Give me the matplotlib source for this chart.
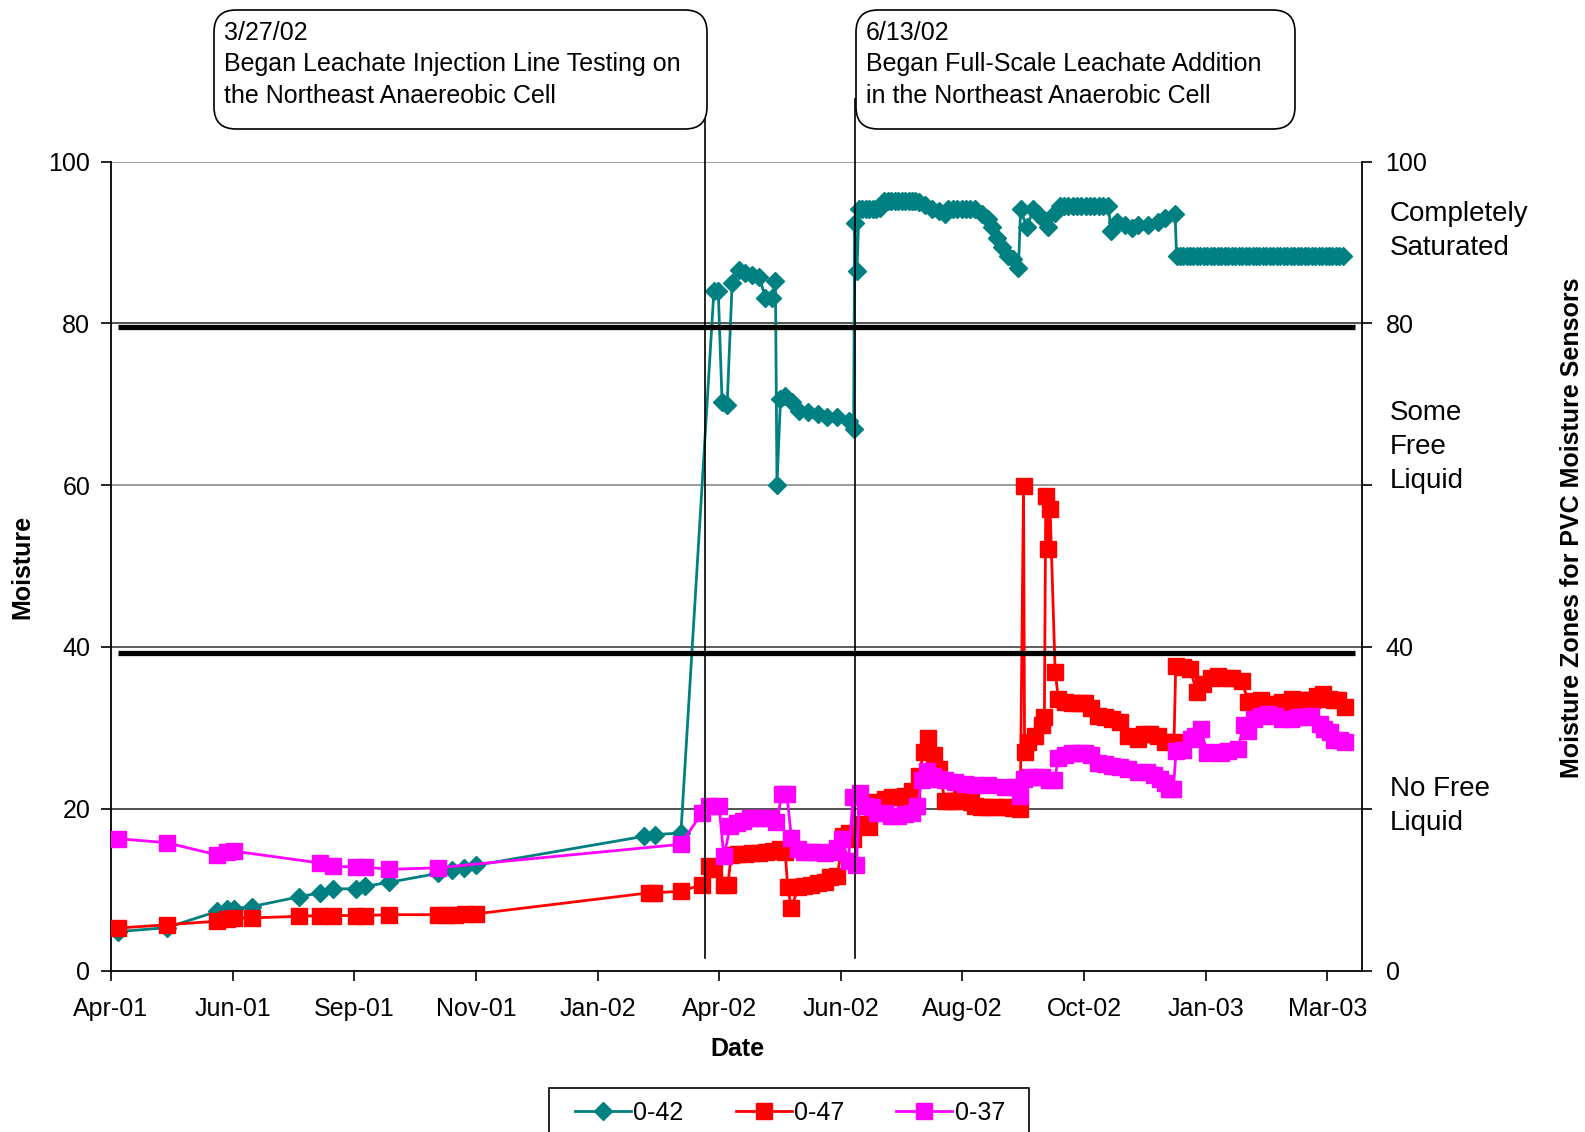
import datetime as dt

import matplotlib
matplotlib.use("Agg")
import matplotlib.pyplot as plt
import matplotlib.dates as mdates
import numpy as np
from matplotlib.patches import FancyBboxPatch, Rectangle
from matplotlib.transforms import Affine2D

plt.rcParams["font.family"] = ["Liberation Sans", "DejaVu Sans"]

# Sensor readings: days after 19 Apr 2001 and moisture value
days_042 = [4, 32, 61, 67, 71, 81, 108, 120, 128, 141, 146, 160, 188, 196, 203, 210,
            307, 313, 328,
            347, 349.5, 351.7, 354.6, 357.5, 361.3, 365, 369, 373, 376.6, 380.4, 382.4,
            383.3, 385.3, 388, 392, 395.8, 401, 407, 412, 418, 424.5, 427.4,
            428, 429.3, 430.5, 432.5, 434.5, 436.5, 438.5, 440.5, 442.5,
            445, 447, 449, 451, 453, 455, 457, 459, 461, 463, 465,
            468.6, 472.5, 476.3, 480.1, 482, 484.5, 487, 489.5, 492, 494.5, 497.4,
            501.2, 505, 507, 509.8, 512.7, 516.5, 519.4, 522.3, 523.5, 527.1,
            530.9, 533.8, 537, 539.5, 543.4, 546.2,
            548.5, 551, 553.5, 556, 558.5, 561, 563.5, 566, 568.5, 571, 574,
            575.5, 578.8, 583.6, 587.4, 591.3, 597, 602.8, 606.6, 612.4,
            613.3, 615, 617, 619, 621, 623, 625, 627, 629, 631, 633, 635, 637,
            639, 641, 643, 645, 647, 649, 651, 653, 655, 657, 659, 661,
            663, 665, 667, 669, 671, 673, 675, 677, 679, 681, 683, 685,
            687, 689, 691, 693, 695, 697, 699, 701, 703, 705, 707, 709]
moist_042 = [4.8, 5.3, 7.3, 7.6, 7.65, 7.9, 9.1, 9.6, 10.1, 10.1, 10.4, 10.9, 12.0, 12.4, 12.7, 13.0,
             16.6, 16.8, 17.0,
             84.0, 84.0, 70.3, 69.9, 85.0, 86.6, 86.2, 86.0, 85.8, 83.2, 83.2, 85.3,
             60.0, 70.6, 71.0, 70.3, 69.2, 69.0, 68.8, 68.4, 68.4, 68.0, 67.0,
             92.4, 86.5, 94.1, 94.1, 94.1, 94.1, 94.1, 94.1, 94.3,
             95.1, 95.1, 95.1, 95.1, 95.1, 95.1, 95.1, 95.1, 95.1, 95.1, 95.0,
             94.7, 94.1, 93.9, 93.5, 94.1, 94.1, 94.1, 94.1, 94.1, 94.1, 94.1,
             93.5, 92.9, 91.9, 90.6, 89.4, 88.4, 88.0, 86.9, 94.1, 91.9,
             94.1, 93.5, 92.8, 91.9, 93.7, 94.5,
             94.5, 94.5, 94.5, 94.5, 94.5, 94.5, 94.5, 94.5, 94.5, 94.5, 94.5,
             91.4, 92.6, 92.2, 91.8, 92.2, 92.2, 92.6, 93.0, 93.5,
             88.3, 88.3, 88.3, 88.3, 88.3, 88.3, 88.3, 88.3, 88.3, 88.3, 88.3, 88.3, 88.3,
             88.3, 88.3, 88.3, 88.3, 88.3, 88.3, 88.3, 88.3, 88.3, 88.3, 88.3, 88.3,
             88.3, 88.3, 88.3, 88.3, 88.3, 88.3, 88.3, 88.3, 88.3, 88.3, 88.3, 88.3,
             88.3, 88.3, 88.3, 88.3, 88.3, 88.3, 88.3, 88.3, 88.3, 88.3, 88.3, 88.3]

days_047 = [4, 32, 61, 67, 71, 81, 108, 120, 128, 141, 146, 160, 188, 193, 198, 204, 210,
            309.5, 312.4, 327.8, 340.2, 344, 347, 352.7, 355,
            357, 361, 365, 369, 373, 377, 381, 385, 388, 389.5, 391.6,
            395.5, 399, 403, 407, 411, 414, 418, 421.5, 424.5, 427,
            431.3, 436, 441, 445.7, 449.5, 453.3, 457, 461, 464.8, 467.7,
            470.2, 473.4, 476.3, 480.1, 483, 486, 489, 491.6, 495, 497.4,
            501, 505, 509, 514.6, 519, 523.3, 525.2, 525.8, 528, 532,
            535.7, 537.2, 538, 539.3, 540.5, 543.4, 545.3, 549, 553, 557,
            560.6, 564, 568.3, 572, 576, 580.7, 585.5, 591.3, 594.5, 598,
            602.8, 606.6, 611.8, 612.8, 617, 621, 625, 628.7, 633, 637,
            641, 645, 650.8, 654.6, 658, 662, 666, 670, 674, 679.6,
            683, 687.2, 691, 694, 697.8, 701, 704, 706.4, 710.3]
moist_047 = [5.25, 5.65, 6.1, 6.35, 6.5, 6.5, 6.7, 6.8, 6.8, 6.8, 6.8, 6.9, 6.9, 6.9, 6.9, 6.95, 7.0,
             9.6, 9.6, 9.8, 10.6, 12.9, 12.5, 10.6, 10.6,
             14.3, 14.4, 14.4, 14.5, 14.5, 14.6, 14.8, 15.0, 14.6, 10.3, 7.7,
             10.3, 10.4, 10.6, 10.8, 11.0, 11.5, 11.7, 16.6, 17.0, 16.2,
             18.1, 17.7, 20.8, 21.2, 21.4, 21.4, 21.6, 22.2, 24.0, 27.0,
             28.8, 26.7, 24.9, 21.0, 21.0, 21.0, 21.2, 21.4, 20.8, 20.3,
             20.2, 20.2, 20.2, 20.2, 20.1, 20.0, 59.9, 27.0, 28.2, 29.0,
             30.4, 31.4, 58.7, 52.1, 57.0, 36.9, 33.6, 33.2, 33.1, 33.1,
             33.1, 32.5, 31.5, 31.3, 31.1, 30.7, 29.0, 28.6, 29.2, 29.2,
             29.0, 28.2, 28.2, 37.7, 37.5, 37.3, 34.4, 35.4, 36.2, 36.4,
             36.2, 36.2, 35.8, 33.2, 33.3, 33.4, 33.0, 33.0, 33.2, 33.6,
             33.5, 33.4, 33.5, 33.9, 34.2, 33.6, 33.5, 33.4, 32.6]

days_037 = [4, 32, 61, 67, 71, 120, 128, 141, 146, 160, 188,
            327.8, 340.2, 344, 350, 352.7, 356.5, 360, 364, 368, 372,
            376, 380, 383, 386.2, 389, 391.6, 395.5, 399, 403, 407,
            411, 415, 418, 420.6, 424.5, 427, 429, 431, 434, 438,
            441, 445.7, 449, 453, 457, 461, 464, 466.7, 469.6, 473,
            476.3, 480, 486, 491.6, 497.4, 505, 514.6, 520, 523.3, 525.2,
            529, 532, 536, 540, 543, 545.3, 549, 553, 557, 560.6,
            564, 568.3, 572, 576, 580.7, 585.5, 591.3, 596, 600, 603.7,
            606.6, 609, 611.4, 613, 617, 621.4, 624, 627.2, 631, 635,
            639, 643, 648.5, 652, 654.6, 658, 662, 666, 670, 674,
            679, 683, 687, 690.8, 695.6, 698, 701.4, 704, 707.3, 710]
moist_037 = [16.3, 15.8, 14.3, 14.6, 14.75, 13.3, 12.9, 12.8, 12.8, 12.5, 12.7,
             15.6, 19.5, 20.3, 20.3, 14.1, 17.9, 18.2, 18.5, 18.8, 18.8,
             18.8, 18.8, 18.4, 21.8, 21.8, 16.4, 15.0, 14.7, 14.6, 14.6,
             14.5, 14.6, 15.2, 16.2, 13.6, 21.5, 13.0, 22.0, 20.4, 20.2,
             19.5, 19.5, 19.1, 19.1, 19.3, 19.5, 20.3, 23.6, 24.7, 24.0,
             23.7, 23.5, 23.3, 23.0, 22.9, 22.9, 22.7, 22.7, 21.6, 23.7,
             23.9, 23.9, 23.9, 23.5, 23.5, 26.3, 26.7, 26.9, 26.9, 26.9,
             26.7, 25.7, 25.5, 25.3, 25.1, 24.9, 24.5, 24.5, 24.2, 23.7,
             23.2, 22.4, 22.4, 27.1, 27.3, 28.6, 29.0, 29.8, 26.9, 27.0,
             26.9, 27.2, 27.4, 30.3, 29.6, 31.1, 31.5, 31.7, 31.5, 31.1,
             31.1, 31.3, 31.4, 31.5, 30.5, 29.8, 29.5, 28.5, 28.5, 28.3]

series_names = ["0-42", "0-47", "0-37"]

# Zone boundaries (moisture) and the span over which they are drawn (days)
zone_levels = [79.6, 39.3]
zone_span = [4, 716]

# Events marked on the time line (days after 19 Apr 2001)
event_days = [342, 428]
event_notes = ["3/27/02\nBegan Leachate Injection Line Testing on\nthe Northeast Anaereobic Cell",
               "6/13/02\nBegan Full-Scale Leachate Addition\nin the Northeast Anaerobic Cell"]

zone_labels = ["Completely\nSaturated", "Some\nFree\nLiquid", "No Free\nLiquid"]

W, H = 1585, 1132
fig = plt.figure(figsize=(W / 100, H / 100), dpi=100)
ax = fig.add_axes([111 / W, 1 - 970.5 / H, 1251 / W, 808.8 / H])
px = Affine2D().scale(1 / W, 1 / H) + fig.transFigure

base = mdates.date2num(dt.datetime(2001, 4, 19))


def to_x(days):
    return base + np.asarray(days, dtype=float)


# horizontal grid
for lvl, col in [(20, "#222222"), (40, "#333333"), (60, "#808080"), (80, "#222222"), (100, "#808080")]:
    ax.axhline(lvl, color=col, lw=1.1, zorder=1)

styles = [("#008080", "D", 9.4), ("#FF0000", "s", 12), ("#FF00FF", "s", 12)]
handles = []
for (d, v), name, (col, mk, ms) in zip([(days_042, moist_042), (days_047, moist_047), (days_037, moist_037)],
                                        series_names, styles):
    h, = ax.plot(to_x(d), v, color=col, lw=2.0, marker=mk, ms=ms, mec=col, mfc=col,
                 label=name, zorder=3)
    handles.append(h)

for lvl in zone_levels:
    ax.plot(to_x(zone_span), [lvl, lvl], color="black", lw=3.8, solid_capstyle="butt", zorder=5)

ax.set_xlim(base, base + 720)
ax.set_ylim(0, 100)
ax.set_xticks(base + np.arange(0, 701, 70))
ax.xaxis.set_major_formatter(mdates.DateFormatter("%b-%y"))
ax.set_yticks([0, 20, 40, 60, 80, 100])
ax.tick_params(axis="both", direction="out", length=7, width=1.2, labelsize=18, colors="black")
ax.tick_params(axis="x", pad=12)
ax.tick_params(axis="y", pad=8)
for s in ["left", "bottom"]:
    ax.spines[s].set_linewidth(1.3)
ax.spines["top"].set_visible(False)
ax.spines["right"].set_visible(False)

ax2 = ax.twinx()
ax2.set_ylim(0, 100)
ax2.set_yticks([0, 20, 40, 60, 80, 100])
ax2.set_yticklabels(["0", "", "40", "", "80", "100"])
ax2.tick_params(axis="y", direction="out", length=7, width=1.2, labelsize=18, pad=10)
for s in ["left", "top", "bottom"]:
    ax2.spines[s].set_visible(False)
ax2.spines["right"].set_linewidth(1.3)

ax.set_xlabel("Date", fontsize=18, fontweight="bold", va="center")
ax.xaxis.set_label_coords(0.5004, (970.5 - 1049) / 808.8)
ax.set_ylabel("Moisture", fontsize=18, fontweight="bold", va="center")
ax.yaxis.set_label_coords((22 - 111) / 1251, (970.5 - 567) / 808.8)
ax2.set_ylabel("Moisture Zones for PVC Moisture Sensors", fontsize=18, fontweight="bold",
               va="center", rotation=90)
ax2.yaxis.set_label_coords((1572 - 111) / 1251, (970.5 - 528) / 808.8)

# event markers running up into the callouts
for d, top in zip(event_days, [109.1, 107.8]):
    ax.plot(to_x([d, d]), [1.5, top], color="black", lw=1.2, clip_on=False, zorder=6)

# callout boxes
boxes = [(214, 707), (856, 1295)]
for (x0, x1), note in zip(boxes, event_notes):
    patch = FancyBboxPatch((x0, H - 129), x1 - x0, 119,
                           boxstyle="round,pad=0,rounding_size=22",
                           transform=px, facecolor="white", edgecolor="black", lw=1.2)
    fig.add_artist(patch)
    fig.text(x0 + 10, H - 21, note, transform=px, ha="left", va="top", fontsize=18,
             linespacing=1.39)

# zone labels beside the right axis
for lab, yc in zip(zone_labels, [231, 447, 806]):
    fig.text(1390, H - yc, lab, transform=px, ha="left", va="center", fontsize=20,
             linespacing=1.38)

# legend
fig.add_artist(Rectangle((549, H - 1160), 480, 1160 - 1088, transform=px,
                         facecolor="white", edgecolor="black", lw=1.2))
fig.legend(handles=handles, labels=series_names, ncol=3, loc="center",
           bbox_to_anchor=(790 / W, 1 - 1113 / H), frameon=False, fontsize=18,
           handlelength=2.24, handletextpad=0.1, columnspacing=2.08, borderpad=0,
           borderaxespad=0)

fig.savefig("out.png", dpi=100)
